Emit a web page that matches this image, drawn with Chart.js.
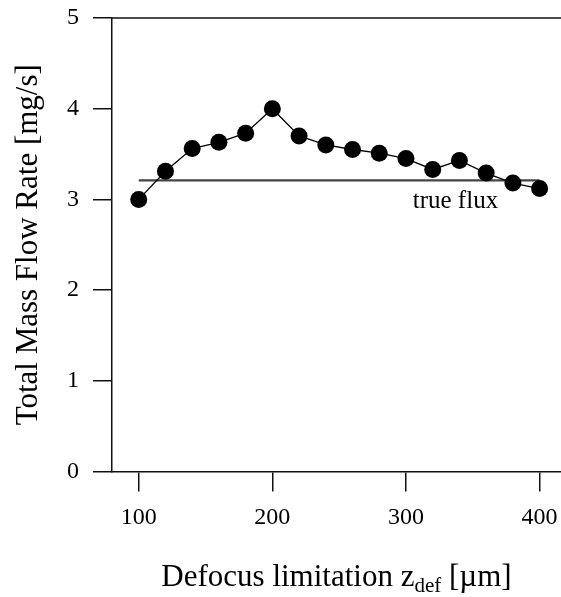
<!DOCTYPE html>
<html lang="en">
<head>
    <meta charset="UTF-8">
    <title>Total Mass Flow Rate vs Defocus limitation</title>
    <script src="https://cdn.jsdelivr.net/npm/chart.js@4.4.0/dist/chart.umd.min.js"></script>
    <style>
        body {
            margin: 0;
            background-color: white;
        }
        .wrap {
            position: relative;
            width: 561px;
            height: 597px;
        }
        .x-title {
            position: absolute;
            left: 112px;
            width: 449px;
            top: 556px;
            text-align: center;
            font-family: 'Liberation Serif', 'Times New Roman', serif;
            font-size: 31px;
            color: #000;
            line-height: 40px;
        }
        .x-title sub {
            font-size: 21px;
            vertical-align: -6px;
            line-height: 0;
        }
    </style>
</head>
<body>
    <div class="wrap">
        <canvas id="flowChart" width="561" height="597"></canvas>
        <div class="x-title">Defocus limitation z<sub>def</sub> [µm]</div>
    </div>

    <script>
        const zDef = [100, 120, 140, 160, 180, 200, 220, 240, 260, 280, 300, 320, 340, 360, 380, 400];
        const massFlow = [3.00, 3.31, 3.56, 3.63, 3.73, 4.00, 3.70, 3.60, 3.55, 3.51, 3.45, 3.33, 3.43, 3.29, 3.18, 3.12];
        const trueFluxX = [100, 400];
        const trueFlux = 3.21;
        const xTicks = [100, 200, 300, 400];
        const yTicks = [0, 1, 2, 3, 4, 5];

        const serif = "'Liberation Serif', 'Times New Roman', serif";
        const ctx = document.getElementById('flowChart').getContext('2d');

        // top frame line and the "true flux" label
        const extras = {
            id: 'extras',
            afterDraw(chart) {
                const c = chart.ctx;
                const area = chart.chartArea;
                const xs = chart.scales.x, ys = chart.scales.y;
                c.save();
                c.strokeStyle = '#111';
                c.lineWidth = 1.5;
                c.beginPath();
                c.moveTo(area.left, area.top);
                c.lineTo(area.right, area.top);
                c.stroke();
                c.fillStyle = '#000';
                c.font = '25px ' + serif;
                c.textAlign = 'center';
                c.textBaseline = 'alphabetic';
                c.fillText('true flux', xs.getPixelForValue(337), ys.getPixelForValue(2.905));
                c.restore();
            }
        };

        new Chart(ctx, {
            type: 'scatter',
            data: {
                datasets: [
                    {
                        label: 'Total mass flow rate',
                        data: zDef.map((x, i) => ({ x: x, y: massFlow[i] })),
                        showLine: true,
                        borderColor: '#000',
                        borderWidth: 1.3,
                        backgroundColor: '#000',
                        pointRadius: 8.5,
                        pointBorderWidth: 0,
                        order: 1
                    },
                    {
                        label: 'true flux',
                        data: trueFluxX.map(x => ({ x: x, y: trueFlux })),
                        showLine: true,
                        borderColor: '#444',
                        borderWidth: 2.2,
                        pointRadius: 0,
                        order: 2
                    }
                ]
            },
            options: {
                responsive: false,
                animation: false,
                layout: {
                    autoPadding: false,
                    padding: { top: 18, right: 0, left: 0, bottom: 0 }
                },
                plugins: {
                    legend: { display: false },
                    tooltip: { enabled: false }
                },
                scales: {
                    x: {
                        type: 'linear',
                        min: 80,
                        max: 416,
                        afterBuildTicks: scale => {
                            scale.ticks = xTicks.map(v => ({ value: v }));
                        },
                        afterFit: scale => {
                            scale.height = 125.5;
                            scale.paddingLeft = 0;
                            scale.paddingRight = 0;
                        },
                        grid: {
                            drawOnChartArea: false,
                            drawTicks: true,
                            tickLength: 20,
                            color: '#111',
                            lineWidth: 1.5
                        },
                        border: { display: true, color: '#111', width: 1.5 },
                        ticks: {
                            color: '#000',
                            padding: 12,
                            font: { family: serif, size: 24 }
                        }
                    },
                    y: {
                        min: 0,
                        max: 5,
                        afterBuildTicks: scale => {
                            scale.ticks = yTicks.map(v => ({ value: v }));
                        },
                        afterFit: scale => {
                            scale.width = 112;
                            scale.paddingTop = 0;
                            scale.paddingBottom = 0;
                        },
                        grid: {
                            drawOnChartArea: false,
                            drawTicks: true,
                            tickLength: 19,
                            color: '#111',
                            lineWidth: 1.5
                        },
                        border: { display: true, color: '#111', width: 1.5 },
                        ticks: {
                            color: '#000',
                            padding: 14,
                            font: { family: serif, size: 24 }
                        },
                        title: {
                            display: true,
                            text: 'Total Mass Flow Rate [mg/s]',
                            color: '#000',
                            font: { family: serif, size: 31, weight: 'normal' },
                            padding: { top: 10, bottom: 0 }
                        }
                    }
                }
            },
            plugins: [extras]
        });
    </script>
</body>
</html>
